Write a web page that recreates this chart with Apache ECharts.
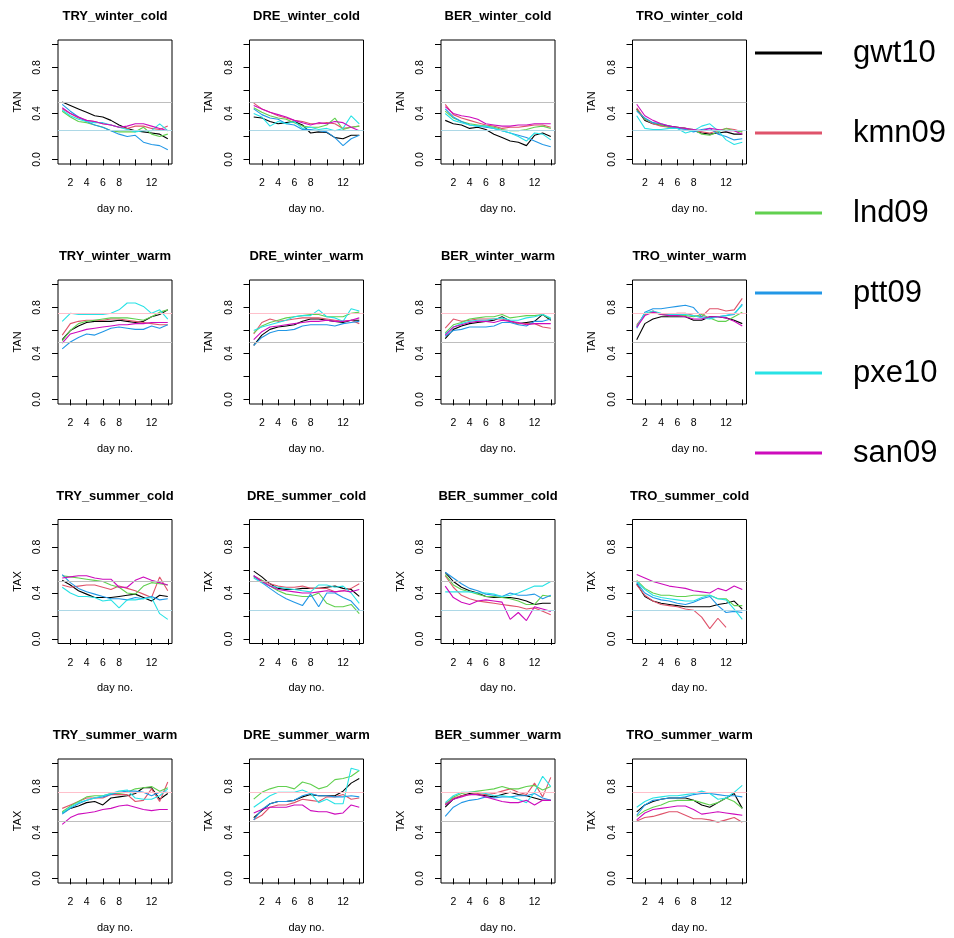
<!DOCTYPE html>
<html>
<head>
<meta charset="utf-8">
<title>TAN / TAX by day</title>
<script src="https://cdn.jsdelivr.net/npm/echarts@6/dist/echarts.min.js"></script>
<style>
  html, body { margin: 0; padding: 0; background: #fff; }
  #chart { width: 954px; height: 938px; }
</style>
</head>
<body>
<div id="chart"></div>
<script>
// ---- data ----
const days = [1, 2, 3, 4, 5, 6, 7, 8, 9, 10, 11, 12, 13, 14];
const models = ['gwt10', 'kmn09', 'lnd09', 'ptt09', 'pxe10', 'san09'];
const modelColors = ['#000000', '#DF536B', '#61D04F', '#2297E6', '#28E2E5', '#CD0BBC'];

const xTicks = [2, 4, 6, 8, 10, 12, 14];
const xLabels = [2, 4, 6, 8, 12];
const yTicks = [0, 0.2, 0.4, 0.6, 0.8, 1.0];
const yLabels = [0, 0.4, 0.8];

// reference levels: [gray, coloured]
const refCold = [0.5, 0.25];
const refWarm = [0.5, 0.75];

// each panel: rows in the order of `models`
const TRY_winter_cold = [
  [0.50,0.47,0.44,0.41,0.38,0.37,0.34,0.30,0.27,0.25,0.24,0.23,0.22,0.18],
  [0.44,0.40,0.36,0.34,0.33,0.31,0.30,0.28,0.27,0.29,0.29,0.27,0.26,0.29],
  [0.42,0.37,0.33,0.32,0.30,0.28,0.25,0.24,0.24,0.24,0.28,0.22,0.20,0.22],
  [0.48,0.42,0.37,0.33,0.30,0.28,0.25,0.22,0.20,0.21,0.15,0.13,0.12,0.085],
  [0.43,0.38,0.35,0.33,0.32,0.32,0.30,0.28,0.26,0.24,0.25,0.25,0.31,0.25],
  [0.45,0.40,0.37,0.34,0.33,0.31,0.30,0.28,0.29,0.31,0.31,0.29,0.27,0.25]
];
const DRE_winter_cold = [
  [0.37,0.36,0.33,0.31,0.32,0.33,0.30,0.23,0.24,0.235,0.19,0.18,0.21,0.21],
  [0.49,0.44,0.41,0.38,0.36,0.34,0.33,0.31,0.31,0.32,0.31,0.27,0.28,0.29],
  [0.45,0.41,0.38,0.36,0.35,0.32,0.29,0.28,0.28,0.30,0.36,0.26,0.28,0.29],
  [0.44,0.39,0.36,0.35,0.31,0.30,0.26,0.26,0.25,0.24,0.19,0.12,0.18,0.21],
  [0.40,0.37,0.29,0.33,0.31,0.33,0.27,0.28,0.26,0.27,0.25,0.27,0.38,0.31],
  [0.47,0.44,0.41,0.39,0.37,0.34,0.32,0.30,0.32,0.31,0.33,0.32,0.28,0.25]
];
const BER_winter_cold = [
  [0.34,0.31,0.30,0.27,0.28,0.26,0.22,0.19,0.16,0.15,0.12,0.21,0.23,0.20],
  [0.48,0.39,0.36,0.34,0.32,0.30,0.29,0.27,0.28,0.28,0.29,0.30,0.30,0.28],
  [0.42,0.36,0.33,0.31,0.30,0.29,0.28,0.26,0.25,0.25,0.26,0.28,0.29,0.27],
  [0.44,0.37,0.33,0.30,0.29,0.28,0.27,0.25,0.23,0.21,0.19,0.16,0.13,0.11],
  [0.40,0.34,0.32,0.30,0.29,0.29,0.27,0.25,0.23,0.20,0.16,0.23,0.22,0.17],
  [0.46,0.40,0.38,0.37,0.35,0.31,0.30,0.29,0.29,0.30,0.30,0.31,0.31,0.31]
];
const TRO_winter_cold = [
  [0.44,0.34,0.31,0.30,0.29,0.28,0.27,0.25,0.23,0.22,0.23,0.24,0.22,0.22],
  [0.45,0.35,0.31,0.29,0.28,0.27,0.27,0.25,0.24,0.23,0.25,0.27,0.26,0.24],
  [0.43,0.35,0.32,0.30,0.28,0.28,0.27,0.26,0.22,0.21,0.24,0.27,0.25,0.24],
  [0.42,0.36,0.32,0.31,0.29,0.27,0.26,0.24,0.26,0.27,0.22,0.20,0.17,0.18],
  [0.38,0.27,0.26,0.26,0.27,0.27,0.23,0.25,0.29,0.31,0.25,0.17,0.13,0.15],
  [0.48,0.38,0.34,0.31,0.29,0.28,0.27,0.26,0.25,0.27,0.26,0.25,0.25,0.22]
];
const TRY_winter_warm = [
  [0.52,0.60,0.64,0.67,0.68,0.68,0.68,0.69,0.68,0.67,0.68,0.72,0.74,0.78],
  [0.56,0.66,0.68,0.69,0.69,0.69,0.70,0.70,0.69,0.68,0.67,0.66,0.65,0.65],
  [0.51,0.60,0.66,0.68,0.69,0.70,0.71,0.71,0.71,0.70,0.69,0.72,0.76,0.78],
  [0.44,0.50,0.54,0.57,0.56,0.59,0.62,0.63,0.62,0.61,0.61,0.64,0.62,0.65],
  [0.68,0.75,0.74,0.74,0.74,0.74,0.75,0.78,0.84,0.84,0.81,0.75,0.78,0.70],
  [0.49,0.57,0.59,0.61,0.62,0.63,0.64,0.65,0.65,0.66,0.66,0.67,0.67,0.67]
];
const DRE_winter_warm = [
  [0.47,0.56,0.61,0.63,0.64,0.65,0.68,0.70,0.70,0.69,0.68,0.67,0.69,0.69],
  [0.57,0.67,0.70,0.68,0.69,0.70,0.71,0.71,0.71,0.70,0.69,0.68,0.69,0.66],
  [0.58,0.64,0.67,0.69,0.71,0.72,0.73,0.74,0.74,0.72,0.72,0.72,0.75,0.76],
  [0.47,0.54,0.58,0.60,0.60,0.61,0.64,0.65,0.65,0.65,0.64,0.66,0.67,0.68],
  [0.60,0.63,0.65,0.67,0.69,0.72,0.73,0.73,0.78,0.72,0.71,0.68,0.79,0.77],
  [0.52,0.59,0.63,0.64,0.65,0.66,0.67,0.68,0.68,0.69,0.68,0.68,0.69,0.71]
];
const BER_winter_warm = [
  [0.53,0.61,0.64,0.66,0.67,0.68,0.69,0.72,0.68,0.66,0.67,0.68,0.74,0.69],
  [0.62,0.70,0.68,0.69,0.70,0.70,0.70,0.70,0.68,0.66,0.66,0.66,0.63,0.62],
  [0.58,0.65,0.67,0.70,0.71,0.72,0.72,0.74,0.71,0.72,0.73,0.73,0.74,0.70],
  [0.55,0.60,0.61,0.63,0.63,0.63,0.64,0.67,0.67,0.65,0.64,0.68,0.68,0.70],
  [0.57,0.63,0.66,0.68,0.69,0.69,0.70,0.71,0.69,0.69,0.71,0.72,0.74,0.71],
  [0.56,0.63,0.65,0.67,0.68,0.68,0.67,0.69,0.68,0.67,0.65,0.66,0.66,0.66]
];
const TRO_winter_warm = [
  [0.52,0.66,0.70,0.72,0.72,0.72,0.72,0.69,0.69,0.72,0.72,0.71,0.69,0.66],
  [0.65,0.74,0.77,0.74,0.74,0.75,0.75,0.73,0.72,0.79,0.79,0.77,0.78,0.88],
  [0.64,0.74,0.76,0.74,0.73,0.73,0.73,0.72,0.74,0.71,0.68,0.68,0.72,0.76],
  [0.62,0.76,0.79,0.79,0.80,0.81,0.82,0.80,0.72,0.71,0.72,0.73,0.74,0.83],
  [0.63,0.75,0.77,0.75,0.74,0.74,0.74,0.73,0.71,0.70,0.72,0.73,0.75,0.82],
  [0.63,0.73,0.76,0.74,0.73,0.73,0.72,0.70,0.70,0.72,0.72,0.71,0.68,0.64]
];
const TRY_summer_cold = [
  [0.51,0.47,0.42,0.39,0.36,0.36,0.36,0.37,0.38,0.39,0.36,0.33,0.38,0.37],
  [0.47,0.45,0.46,0.47,0.47,0.45,0.43,0.46,0.44,0.42,0.39,0.36,0.54,0.42],
  [0.55,0.54,0.53,0.52,0.51,0.50,0.47,0.45,0.40,0.39,0.46,0.49,0.48,0.47],
  [0.56,0.49,0.44,0.41,0.39,0.37,0.35,0.35,0.34,0.36,0.35,0.37,0.34,0.35],
  [0.45,0.40,0.37,0.37,0.36,0.33,0.34,0.27,0.34,0.34,0.35,0.36,0.22,0.17],
  [0.53,0.54,0.55,0.55,0.53,0.52,0.52,0.45,0.45,0.51,0.54,0.51,0.49,0.47]
];
const DRE_summer_cold = [
  [0.59,0.54,0.48,0.44,0.43,0.43,0.44,0.44,0.44,0.45,0.46,0.44,0.43,0.37],
  [0.55,0.51,0.48,0.46,0.45,0.45,0.46,0.44,0.44,0.44,0.41,0.42,0.44,0.48],
  [0.54,0.51,0.46,0.42,0.39,0.38,0.37,0.37,0.40,0.31,0.28,0.28,0.30,0.22],
  [0.55,0.49,0.44,0.39,0.35,0.32,0.29,0.39,0.28,0.40,0.40,0.36,0.33,0.25],
  [0.53,0.49,0.46,0.45,0.44,0.43,0.42,0.41,0.47,0.47,0.45,0.46,0.40,0.31],
  [0.55,0.50,0.46,0.43,0.42,0.41,0.40,0.40,0.41,0.42,0.41,0.42,0.41,0.43]
];
const BER_summer_cold = [
  [0.58,0.50,0.45,0.42,0.40,0.37,0.36,0.36,0.36,0.35,0.33,0.30,0.31,0.31],
  [0.55,0.45,0.38,0.35,0.33,0.32,0.31,0.30,0.29,0.28,0.26,0.27,0.24,0.21],
  [0.56,0.47,0.43,0.41,0.39,0.37,0.37,0.36,0.35,0.33,0.30,0.30,0.38,0.37],
  [0.58,0.53,0.48,0.44,0.42,0.39,0.38,0.37,0.40,0.38,0.38,0.39,0.35,0.38],
  [0.41,0.41,0.41,0.41,0.40,0.40,0.39,0.37,0.38,0.40,0.43,0.46,0.46,0.50],
  [0.46,0.36,0.32,0.30,0.33,0.34,0.33,0.32,0.17,0.23,0.16,0.28,0.26,0.24]
];
const TRO_summer_cold = [
  [0.48,0.37,0.33,0.31,0.30,0.29,0.28,0.28,0.28,0.28,0.30,0.31,0.33,0.26],
  [0.47,0.38,0.33,0.30,0.29,0.28,0.26,0.25,0.19,0.09,0.18,0.10,null,null],
  [0.51,0.44,0.40,0.38,0.38,0.37,0.37,0.38,0.38,0.38,0.35,0.35,0.29,0.29],
  [0.49,0.40,0.36,0.34,0.33,0.31,0.30,0.32,0.35,0.37,0.29,0.23,0.24,0.23],
  [0.50,0.43,0.38,0.36,0.35,0.34,0.33,0.33,0.36,0.38,0.35,0.34,0.26,0.17],
  [0.56,0.53,0.50,0.48,0.46,0.45,0.44,0.42,0.41,0.40,0.44,0.42,0.46,0.43]
];
const TRY_summer_warm = [
  [0.57,0.61,0.63,0.66,0.67,0.64,0.70,0.71,0.72,0.74,0.79,0.79,0.69,0.74],
  [0.61,0.64,0.67,0.70,0.70,0.70,0.73,0.73,0.73,0.67,0.68,0.78,0.67,0.84],
  [0.58,0.63,0.67,0.71,0.72,0.72,0.74,0.74,0.75,0.78,0.79,0.80,0.76,0.79],
  [0.56,0.61,0.65,0.68,0.70,0.71,0.73,0.75,0.76,0.76,0.75,0.72,0.75,0.75],
  [0.57,0.62,0.66,0.68,0.70,0.72,0.74,0.76,0.77,0.70,0.69,0.69,0.72,0.78],
  [0.47,0.53,0.56,0.57,0.58,0.60,0.61,0.63,0.64,0.62,0.60,0.59,0.60,0.60]
];
const DRE_summer_warm = [
  [0.53,0.59,0.65,0.67,0.67,0.68,0.71,0.73,0.72,0.72,0.72,0.76,0.83,0.87],
  [0.51,0.55,0.62,0.64,0.64,0.66,0.69,0.68,0.67,0.71,0.71,0.73,0.69,0.70],
  [0.69,0.75,0.78,0.80,0.80,0.78,0.84,0.82,0.78,0.80,0.86,0.87,0.89,0.94],
  [0.51,0.60,0.65,0.67,0.67,0.68,0.72,0.74,0.72,0.72,0.71,0.71,0.72,0.71],
  [0.62,0.67,0.72,0.75,0.75,0.75,0.77,0.74,0.66,0.69,0.65,0.65,0.96,0.94],
  [0.57,0.60,0.62,0.62,0.62,0.64,0.64,0.59,0.58,0.58,0.56,0.57,0.64,0.62]
];
const BER_summer_warm = [
  [0.62,0.69,0.72,0.74,0.73,0.72,0.71,0.73,0.75,0.73,0.72,0.70,0.68,0.68],
  [0.65,0.70,0.72,0.73,0.74,0.73,0.74,0.76,0.78,0.75,0.73,0.83,0.71,0.88],
  [0.64,0.71,0.74,0.75,0.76,0.77,0.78,0.80,0.78,0.78,0.80,0.81,0.77,0.80],
  [0.54,0.62,0.66,0.68,0.69,0.71,0.70,0.71,0.71,0.72,0.72,0.74,0.70,0.68],
  [0.66,0.72,0.75,0.75,0.75,0.74,0.72,0.72,0.71,0.69,0.66,0.75,0.89,0.80],
  [0.64,0.69,0.71,0.73,0.73,0.71,0.69,0.67,0.66,0.66,0.68,0.64,0.68,0.68]
];
const TRO_summer_warm = [
  [0.58,0.64,0.67,0.69,0.70,0.70,0.70,0.68,0.64,0.62,0.66,0.70,0.74,0.61],
  [0.50,0.53,0.54,0.56,0.58,0.58,0.55,0.52,0.52,0.51,0.49,0.51,0.53,0.49],
  [0.54,0.59,0.62,0.64,0.67,0.68,0.68,0.68,0.66,0.64,0.66,0.70,0.67,0.61],
  [0.55,0.64,0.68,0.69,0.70,0.70,0.71,0.73,0.74,0.74,0.73,0.72,0.72,0.71],
  [0.62,0.67,0.70,0.71,0.72,0.72,0.73,0.74,0.76,0.74,0.69,0.70,0.75,0.81],
  [0.51,0.57,0.60,0.61,0.62,0.63,0.63,0.60,0.56,0.57,0.58,0.57,0.56,0.55]
];

const panels = [
  { title: 'TRY_winter_cold', yName: 'TAN', values: TRY_winter_cold, refs: refCold },
  { title: 'DRE_winter_cold', yName: 'TAN', values: DRE_winter_cold, refs: refCold },
  { title: 'BER_winter_cold', yName: 'TAN', values: BER_winter_cold, refs: refCold },
  { title: 'TRO_winter_cold', yName: 'TAN', values: TRO_winter_cold, refs: refCold },
  { title: 'TRY_winter_warm', yName: 'TAN', values: TRY_winter_warm, refs: refWarm },
  { title: 'DRE_winter_warm', yName: 'TAN', values: DRE_winter_warm, refs: refWarm },
  { title: 'BER_winter_warm', yName: 'TAN', values: BER_winter_warm, refs: refWarm },
  { title: 'TRO_winter_warm', yName: 'TAN', values: TRO_winter_warm, refs: refWarm },
  { title: 'TRY_summer_cold', yName: 'TAX', values: TRY_summer_cold, refs: refCold },
  { title: 'DRE_summer_cold', yName: 'TAX', values: DRE_summer_cold, refs: refCold },
  { title: 'BER_summer_cold', yName: 'TAX', values: BER_summer_cold, refs: refCold },
  { title: 'TRO_summer_cold', yName: 'TAX', values: TRO_summer_cold, refs: refCold },
  { title: 'TRY_summer_warm', yName: 'TAX', values: TRY_summer_warm, refs: refWarm },
  { title: 'DRE_summer_warm', yName: 'TAX', values: DRE_summer_warm, refs: refWarm },
  { title: 'BER_summer_warm', yName: 'TAX', values: BER_summer_warm, refs: refWarm },
  { title: 'TRO_summer_warm', yName: 'TAX', values: TRO_summer_warm, refs: refWarm }
];

// ---- layout ----
const FONT = "'Liberation Sans', Arial, sans-serif";
const colLeft = [58, 249.5, 441, 632.5];
const rowTop = [40, 280, 519.5, 759];
const plotW = 114, plotH = 124;
const refColorCold = '#ADD8E6', refColorWarm = '#FFC0CB', refGray = '#BEBEBE';

const grids = [], xAxes = [], yAxes = [], titles = [], series = [];

panels.forEach((p, i) => {
  const row = Math.floor(i / 4), col = i % 4;
  const left = colLeft[col], top = rowTop[row];

  grids.push({
    left: left, top: top, width: plotW, height: plotH,
    show: true, borderColor: '#000', borderWidth: 1,
    backgroundColor: 'transparent', containLabel: false
  });

  titles.push({
    text: p.title,
    left: left + plotW / 2, top: top - 30,
    textAlign: 'center', padding: 0,
    textStyle: { fontFamily: FONT, fontSize: 13, fontWeight: 'bold', color: '#000' }
  });

  xAxes.push({
    type: 'value', gridIndex: i, min: 0.48, max: 14.52,
    splitLine: { show: false },
    axisLine: { show: false },
    axisTick: { show: true, customValues: xTicks, length: 6, inside: false,
                lineStyle: { color: '#000', width: 1 } },
    axisLabel: { customValues: xLabels, fontFamily: FONT, fontSize: 10.5, color: '#000', margin: 14 },
    name: 'day no.', nameLocation: 'middle', nameGap: 39,
    nameTextStyle: { fontFamily: FONT, fontSize: 11, color: '#000' }
  });

  yAxes.push({
    type: 'value', gridIndex: i, min: -0.04, max: 1.04,
    splitLine: { show: false },
    axisLine: { show: false },
    axisTick: { show: true, customValues: yTicks, length: 6, inside: false,
                lineStyle: { color: '#000', width: 1 } },
    axisLabel: { customValues: yLabels, rotate: 90, fontFamily: FONT, fontSize: 10.5, color: '#000',
                 margin: 15, formatter: v => v.toFixed(1) },
    name: p.yName, nameLocation: 'middle', nameGap: 35,
    nameTextStyle: { fontFamily: FONT, fontSize: 11, color: '#000' }
  });

  // horizontal reference levels
  const accent = p.refs === refCold ? refColorCold : refColorWarm;
  series.push({
    type: 'line', name: 'reference', xAxisIndex: i, yAxisIndex: i,
    data: [], silent: true, z: 1,
    markLine: {
      silent: true, symbol: 'none', label: { show: false }, animation: false,
      lineStyle: { type: 'solid', width: 1 },
      data: [
        { yAxis: p.refs[0], lineStyle: { color: refGray, type: 'solid', width: 1 } },
        { yAxis: p.refs[1], lineStyle: { color: accent, type: 'solid', width: 1 } }
      ]
    }
  });

  models.forEach((m, k) => {
    series.push({
      type: 'line', name: m, xAxisIndex: i, yAxisIndex: i,
      data: days.map((d, j) => [d, p.values[k][j]]),
      symbol: 'none', showSymbol: false, connectNulls: false, silent: true, z: 2,
      color: modelColors[k],
      lineStyle: { width: 1.1, color: modelColors[k] },
      itemStyle: { color: modelColors[k] }
    });
  });
});

const chart = echarts.init(document.getElementById('chart'), null, { renderer: 'canvas' });
chart.setOption({
  animation: false,
  backgroundColor: '#fff',
  title: titles,
  grid: grids,
  xAxis: xAxes,
  yAxis: yAxes,
  legend: {
    data: models,
    orient: 'vertical',
    left: 755, top: 36, padding: 0,
    icon: 'rect', itemWidth: 67, itemHeight: 3, itemGap: 46,
    selectedMode: false,
    textStyle: { fontFamily: FONT, fontSize: 31, lineHeight: 34, color: '#000', padding: [0, 0, 0, 26] }
  },
  series: series
});
</script>
</body>
</html>
